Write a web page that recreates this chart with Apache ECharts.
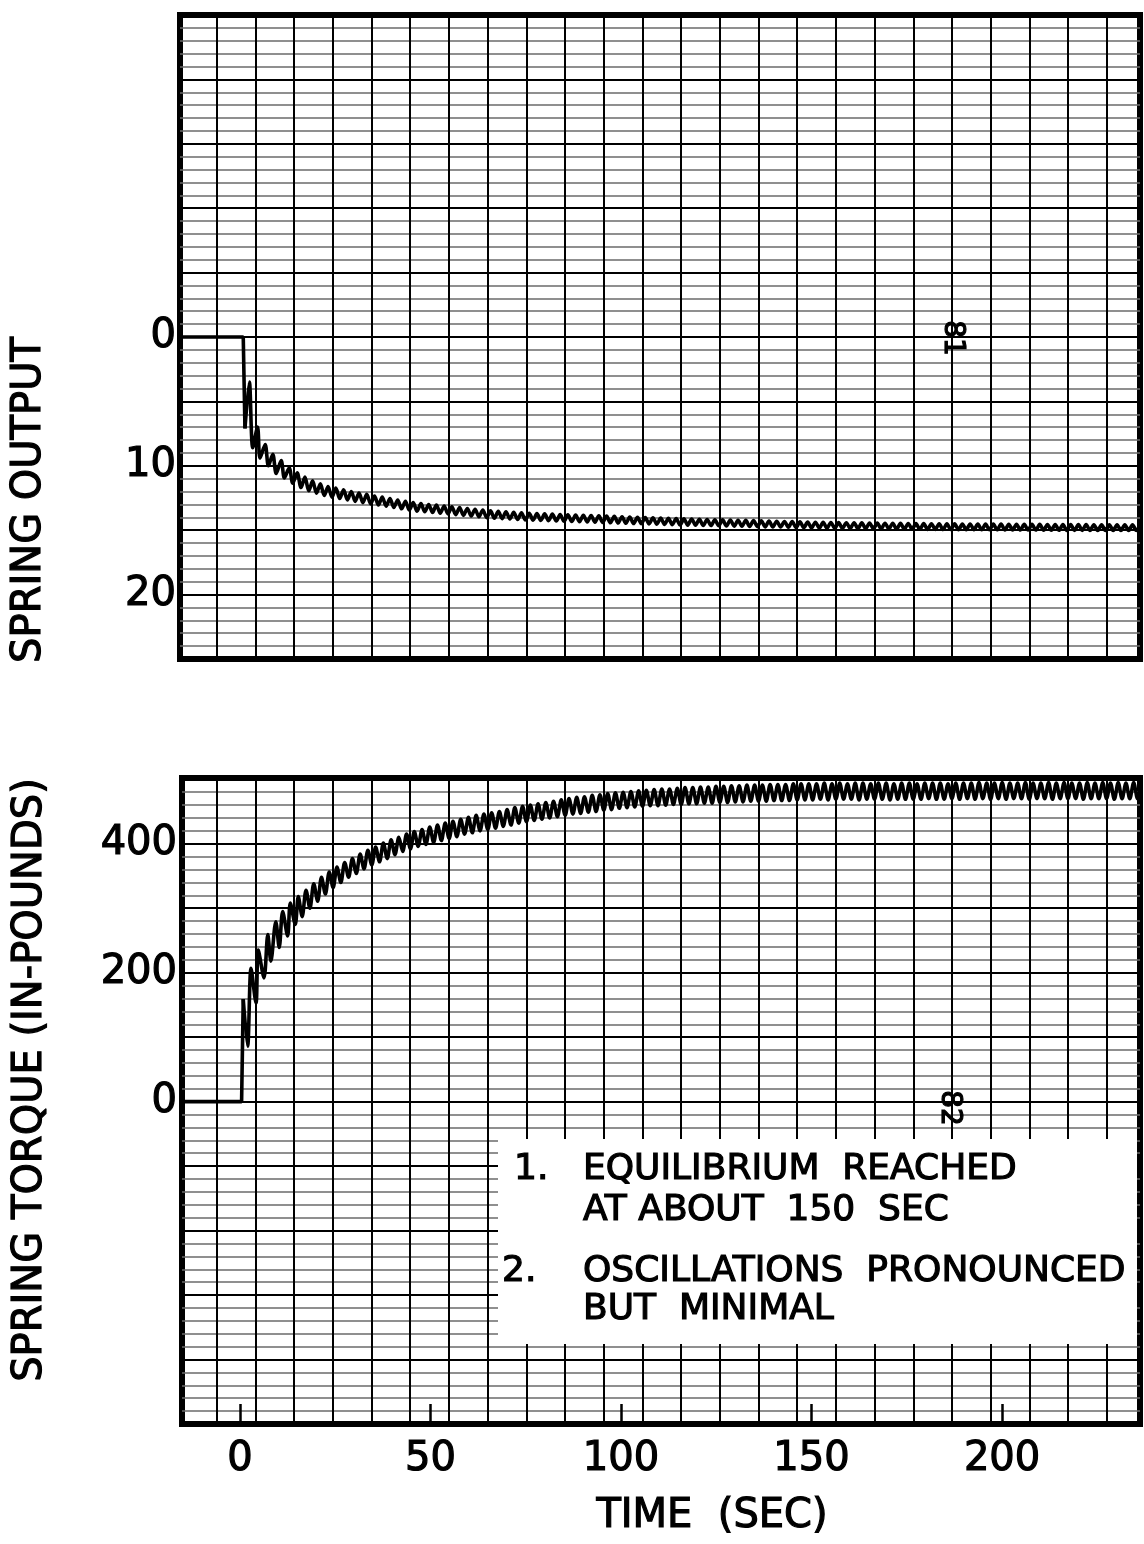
<!DOCTYPE html>
<html><head><meta charset="utf-8">
<script src="https://cdn.jsdelivr.net/npm/echarts@6/dist/echarts.min.js"></script>
<style>html,body{margin:0;padding:0;background:#fff}#c{width:1144px;height:1544px}</style>
</head><body><div id="c"></div>
<script>
// ---------------- data ----------------
const timeTickLabels = [0, 50, 100, 150, 200];
const outputTickLabels = [0, 10, 20];
const torqueTickLabels = [0, 200, 400];

// SPRING OUTPUT: flat start + release step, [time s, output]
const outputStep = [[-16, 0], [0.85, 0], [1.3, 7.1]];
// first irregular swings, [time s, output]
const outputEarly = [[1.3, 7.1], [2.45, 3.5], [3.35, 8.6], [4.6, 7.0], [5.25, 9.4], [6.6, 8.35],
  [7.45, 10.0], [8.6, 9.1], [9.5, 10.6], [10.8, 9.6], [11.65, 10.95], [12.9, 10.15], [13.85, 11.35]];
// alternating crest / trough values sampled every half oscillation period
const oscStart = 15.0;        // s, first crest of the regular part (output)
const oscHalfPeriod = 1.015;  // s
const outputOsc = [
  10.55, 11.69, 10.88, 11.94, 11.17, 12.13, 11.40, 12.31, 11.61, 12.43,
  11.73, 12.54, 11.86, 12.65, 11.99, 12.76, 12.11, 12.86, 12.22, 12.96,
  12.34, 13.04, 12.43, 13.13, 12.54, 13.24, 12.65, 13.34, 12.76, 13.43,
  12.86, 13.52, 12.94, 13.57, 13.00, 13.62, 13.05, 13.68, 13.12, 13.73,
  13.18, 13.79, 13.24, 13.85, 13.31, 13.90, 13.37, 13.96, 13.43, 14.02,
  13.50, 14.07, 13.54, 14.10, 13.58, 14.13, 13.61, 14.17, 13.64, 14.20,
  13.69, 14.22, 13.71, 14.24, 13.73, 14.26, 13.75, 14.28, 13.78, 14.31,
  13.80, 14.33, 13.83, 14.34, 13.85, 14.36, 13.87, 14.38, 13.89, 14.40,
  13.91, 14.42, 13.93, 14.44, 13.95, 14.46, 13.97, 14.48, 14.00, 14.49,
  14.02, 14.51, 14.04, 14.53, 14.06, 14.55, 14.08, 14.57, 14.10, 14.59,
  14.12, 14.61, 14.13, 14.61, 14.16, 14.63, 14.17, 14.64, 14.19, 14.65,
  14.20, 14.67, 14.21, 14.68, 14.23, 14.69, 14.24, 14.71, 14.25, 14.72,
  14.27, 14.74, 14.28, 14.75, 14.30, 14.75, 14.32, 14.77, 14.33, 14.78,
  14.35, 14.80, 14.37, 14.82, 14.38, 14.83, 14.39, 14.84, 14.40, 14.84,
  14.41, 14.85, 14.42, 14.86, 14.42, 14.87, 14.43, 14.88, 14.44, 14.88,
  14.45, 14.89, 14.46, 14.90, 14.46, 14.91, 14.47, 14.92, 14.48, 14.92,
  14.49, 14.93, 14.49, 14.94, 14.50, 14.94, 14.50, 14.95, 14.51, 14.95,
  14.51, 14.96, 14.52, 14.96, 14.52, 14.96, 14.53, 14.97, 14.53, 14.97,
  14.53, 14.97, 14.53, 14.98, 14.54, 14.98, 14.54, 14.98, 14.55, 14.99,
  14.55, 14.99, 14.55, 15.00, 14.56, 15.00, 14.56, 15.00, 14.56, 15.01,
  14.57, 15.01, 14.57, 15.01, 14.57, 15.02, 14.58, 15.02, 14.58, 15.02,
  14.58, 15.02, 14.58, 15.02, 14.58, 15.02, 14.58, 15.02, 14.58
];

// SPRING TORQUE (IN-POUNDS)
const torqueStep = [[-16, 0], [0.42, 0], [0.85, 159]];
const torqueEarly = [[0.85, 159], [2.0, 86], [2.9, 207], [4.2, 153], [4.8, 235], [6.3, 192],
  [7.3, 259], [8.1, 218], [9.4, 279], [10.3, 239], [11.2, 295], [12.5, 257], [13.2, 308], [14.5, 275]];
const torqueOscStart = 15.3;  // s, first crest of the regular part (torque)
const torqueOsc = [
  318, 287, 328, 300, 338, 311, 348, 322, 356, 332,
  364, 340, 371, 348, 377, 354, 384, 361, 390, 367,
  395, 372, 401, 377, 406, 383, 410, 388, 415, 392,
  419, 396, 422, 399, 426, 402, 429, 405, 432, 408,
  435, 411, 438, 415, 441, 417, 444, 420, 446, 422,
  448, 424, 450, 427, 453, 429, 456, 432, 458, 434,
  460, 436, 462, 438, 464, 440, 466, 442, 468, 444,
  470, 446, 472, 447, 473, 449, 475, 450, 476, 452,
  478, 453, 479, 455, 480, 456, 481, 457, 482, 458,
  483, 459, 484, 459, 485, 460, 485, 461, 486, 461,
  487, 462, 487, 462, 488, 463, 488, 463, 489, 464,
  489, 464, 490, 465, 490, 465, 491, 466, 491, 466,
  491, 466, 492, 467, 492, 467, 492, 467, 493, 468,
  493, 468, 493, 468, 493, 469, 494, 468, 493, 469,
  494, 469, 493, 469, 494, 468, 494, 469, 493, 469,
  494, 469, 494, 468, 493, 469, 494, 469, 494, 469,
  493, 469, 494, 470, 494, 469, 494, 469, 493, 470,
  494, 469, 494, 470, 494, 469, 495, 470, 494, 469,
  494, 470, 495, 469, 494, 470, 494, 470, 495, 469,
  494, 470, 494, 470, 495, 469, 494, 470, 495, 470,
  494, 470, 494, 469, 495, 470, 494, 470, 495, 470,
  494, 469, 495, 470, 494, 470, 495, 470, 494
];

// ---------------- build series tables ----------------
function sampled(vals, t0) { return vals.map((v, i) => [t0 + i * oscHalfPeriod, v]); }
const outputSmooth = outputEarly.concat(sampled(outputOsc, oscStart));
const torqueSmooth = torqueEarly.concat(sampled(torqueOsc, torqueOscStart));

const FONT = 'DejaVu Sans';
const minorLine = { show: true, lineStyle: { color: '#6a6a6a', width: 1.5 } };
const majorLine = { show: true, lineStyle: { color: '#000', width: 2 } };
const off = { show: false };
const axisOff = { show: false, onZero: false };
const labelStyle = { color: '#000', fontSize: 40, fontFamily: FONT, textBorderColor: '#000', textBorderWidth: 1.2 };
const traceStyle = { color: '#000', width: 3.6 };

function txt(x, y, text, size, extra) {
  return Object.assign({ type: 'text', x: x, y: y, z: 101,
    style: { text: text, font: size + 'px "DejaVu Sans"', fill: '#000', stroke: '#000', lineWidth: 1.2,
      textAlign: 'left', align: 'left', textVerticalAlign: 'middle', verticalAlign: 'middle' } }, extra || {});
}
function ctxt(x, y, text, size, rot) {
  const t = txt(x, y, text, size, { rotation: rot || 0 });
  t.style.textAlign = 'center'; t.style.align = 'center';
  return t;
}

const chart = echarts.init(document.getElementById('c'), null, { renderer: 'canvas' });
chart.setOption({
  animation: false,
  backgroundColor: '#fff',
  textStyle: { fontFamily: FONT },
  grid: [
    { left: 180, top: 15, width: 960, height: 644, show: true, borderColor: '#000', borderWidth: 6, backgroundColor: 'transparent', containLabel: false, outerBoundsMode: 'none' },
    { left: 216.7, top: 15, width: 890.1, height: 644, containLabel: false, outerBoundsMode: 'none' },
    { left: 182, top: 778, width: 958, height: 646, show: true, borderColor: '#000', borderWidth: 6, backgroundColor: 'transparent', containLabel: false, outerBoundsMode: 'none' },
    { left: 216.7, top: 778, width: 890.1, height: 646, containLabel: false, outerBoundsMode: 'none' }
  ],
  xAxis: [
    { gridIndex: 0, type: 'value', position: 'bottom', min: -15.75, max: 236.2, axisLine: axisOff, axisTick: off, axisLabel: off, splitLine: off },
    { gridIndex: 1, type: 'value', position: 'bottom', min: 0, max: 23, interval: 1, axisLine: axisOff, axisTick: off, axisLabel: off, splitLine: majorLine },
    { gridIndex: 2, type: 'value', position: 'bottom', min: -15.22, max: 236.2, axisLine: axisOff, splitLine: off,
      axisTick: { show: true, inside: true, length: 20, customValues: timeTickLabels, lineStyle: { color: '#000', width: 2.5 } },
      axisLabel: Object.assign({ show: true, customValues: timeTickLabels, margin: 16 }, labelStyle) },
    { gridIndex: 3, type: 'value', position: 'bottom', min: 0, max: 23, interval: 1, axisLine: axisOff, axisTick: off, axisLabel: off, splitLine: majorLine }
  ],
  yAxis: [
    { gridIndex: 0, type: 'value', position: 'left', inverse: true, min: -25, max: 25, interval: 1, axisLine: axisOff, axisTick: off, axisLabel: off, splitLine: minorLine },
    { gridIndex: 0, type: 'value', position: 'left', inverse: true, min: -25, max: 25, interval: 5, axisLine: axisOff, axisTick: off, splitLine: majorLine,
      axisLabel: Object.assign({ show: true, customValues: outputTickLabels, margin: 4 }, labelStyle) },
    { gridIndex: 1, type: 'value', position: 'left', min: 0, max: 1, show: false },
    { gridIndex: 2, type: 'value', position: 'left', min: -500, max: 502, interval: 20, axisLine: axisOff, axisTick: off, axisLabel: off, splitLine: minorLine },
    { gridIndex: 2, type: 'value', position: 'left', min: -500, max: 502, interval: 100, axisLine: axisOff, axisTick: off, splitLine: majorLine,
      axisLabel: Object.assign({ show: true, customValues: torqueTickLabels, margin: 5 }, labelStyle) },
    { gridIndex: 3, type: 'value', position: 'left', min: 0, max: 1, show: false }
  ],
  series: [
    { type: 'line', name: 'SPRING OUTPUT', xAxisIndex: 0, yAxisIndex: 0, data: outputStep, symbol: 'none', z: 5, lineStyle: traceStyle },
    { type: 'line', name: 'SPRING OUTPUT', xAxisIndex: 0, yAxisIndex: 0, data: outputSmooth, symbol: 'none', smooth: 0.3, z: 5, lineStyle: traceStyle },
    { type: 'line', name: 'SPRING TORQUE', xAxisIndex: 2, yAxisIndex: 3, data: torqueStep, symbol: 'none', z: 5, lineStyle: traceStyle },
    { type: 'line', name: 'SPRING TORQUE', xAxisIndex: 2, yAxisIndex: 3, data: torqueSmooth, symbol: 'none', smooth: 0.3, z: 5, lineStyle: traceStyle }
  ],
  graphic: [
    ctxt(30, 500, 'SPRING OUTPUT', 40, Math.PI / 2),
    ctxt(31, 1080, 'SPRING TORQUE (IN-POUNDS)', 40, Math.PI / 2),
    ctxt(712, 1517, 'TIME  (SEC)', 40, 0),
    ctxt(952, 338, '81', 28, -Math.PI / 2),
    ctxt(949, 1108, '82', 28, -Math.PI / 2),
    { type: 'rect', z: 100, shape: { x: 498, y: 1139, width: 639, height: 205 }, style: { fill: '#fff' } },
    txt(514, 1170, '1.', 36),
    txt(583, 1170, 'EQUILIBRIUM  REACHED', 36),
    txt(583, 1211, 'AT ABOUT  150  SEC', 36),
    txt(502, 1272, '2.', 36),
    txt(583, 1272, 'OSCILLATIONS  PRONOUNCED', 36),
    txt(583, 1310, 'BUT  MINIMAL', 36)
  ]
});
</script></body></html>
